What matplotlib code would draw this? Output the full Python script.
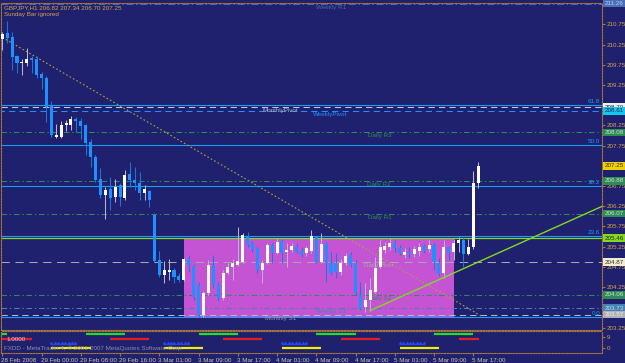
import matplotlib
matplotlib.use("Agg")
import matplotlib.pyplot as plt
from matplotlib.patches import Rectangle
from matplotlib import transforms
import numpy as np

# GBPJPY H1, bar 0 = 28 Feb 2008 16:00
opens = [210.39, 210.53, 210.44, 209.97, 209.79, 209.79, 209.91, 209.88, 209.52, 209.41,
         208.75, 207.97, 207.96, 208.26, 208.26, 208.40, 208.36, 208.26, 207.85, 207.48,
         206.92, 206.54, 206.67, 206.47, 206.77, 206.45, 207.05, 206.90, 206.82, 206.57,
         206.63, 206.03, 204.92, 204.55, 204.62, 204.67, 204.52, 204.42, 204.94, 204.77,
         204.30, 203.56, 204.10, 204.80, 204.30, 203.98, 204.60, 204.75, 204.80, 204.88,
         205.50, 205.35, 205.21, 204.67, 204.84, 205.29, 205.10, 205.40, 205.11, 205.17,
         205.25, 205.15, 205.09, 205.15, 205.48, 204.88, 205.33, 204.84, 204.84, 204.63,
         204.84, 205.04, 204.84, 204.05, 203.75, 203.93, 204.14, 204.75, 205.17, 205.25,
         205.33, 205.21, 205.04, 205.12, 205.07, 205.14, 205.27, 205.19, 205.29, 204.84,
         204.61, 205.23, 205.12, 205.35, 205.42, 205.07, 205.23, 206.82]
highs = [210.56, 210.84, 210.57, 209.99, 209.88, 210.16, 209.97, 209.97, 209.58, 209.47,
         208.85, 208.28, 208.37, 208.38, 208.49, 208.45, 208.43, 208.28, 207.91, 207.52,
         207.19, 206.72, 206.98, 206.92, 206.82, 207.15, 207.35, 207.23, 207.10, 206.78,
         206.65, 206.08, 205.15, 204.90, 204.94, 204.72, 204.61, 204.96, 205.04, 204.82,
         204.38, 204.15, 204.92, 205.04, 204.38, 204.67, 204.84, 204.94, 205.74, 205.59,
         205.62, 205.39, 205.24, 204.92, 205.34, 205.34, 205.46, 205.44, 205.33, 205.35,
         205.35, 205.23, 205.27, 205.66, 205.51, 205.60, 205.36, 205.13, 205.09, 204.94,
         205.09, 205.13, 204.92, 204.38, 204.34, 204.47, 205.00, 205.42, 205.37, 205.46,
         205.42, 205.29, 205.21, 205.25, 205.27, 205.35, 205.32, 205.42, 205.34, 204.96,
         205.42, 205.27, 205.44, 205.48, 205.46, 205.44, 207.13, 207.34]
lows = [210.11, 210.29, 209.62, 209.55, 209.50, 209.73, 209.54, 209.41, 209.14, 208.34,
        207.96, 207.95, 207.95, 208.10, 208.13, 208.08, 207.91, 207.52, 207.23, 206.86,
        206.45, 205.93, 206.16, 206.36, 206.26, 206.40, 206.72, 206.65, 206.40, 206.40,
        206.22, 204.88, 204.49, 204.34, 204.43, 204.36, 204.38, 204.40, 204.63, 203.93,
        203.52, 203.50, 204.05, 204.23, 203.90, 203.93, 204.58, 204.42, 204.78, 204.85,
        205.25, 205.13, 204.59, 204.34, 204.82, 204.84, 205.07, 204.84, 204.75, 205.13,
        205.09, 205.00, 205.02, 205.09, 204.84, 204.84, 204.38, 204.55, 204.47, 204.55,
        204.80, 204.75, 204.05, 203.68, 203.63, 203.67, 204.11, 204.72, 205.09, 205.17,
        205.13, 205.04, 204.97, 204.96, 204.99, 205.02, 205.09, 205.13, 204.67, 204.52,
        204.47, 204.92, 204.92, 205.12, 204.75, 205.04, 205.19, 206.70]
closes = [210.51, 210.41, 209.95, 209.79, 209.82, 209.88, 209.87, 209.50, 209.41, 208.71,
          208.01, 208.01, 208.26, 208.30, 208.40, 208.36, 208.23, 207.81, 207.46, 206.90,
          206.53, 206.65, 206.46, 206.73, 206.49, 207.02, 206.90, 206.83, 206.57, 206.67,
          206.40, 204.90, 204.55, 204.67, 204.67, 204.49, 204.42, 204.94, 204.80, 204.01,
          203.56, 204.10, 204.80, 204.30, 203.98, 204.60, 204.75, 204.84, 204.90, 205.54,
          205.29, 205.17, 204.67, 204.85, 205.29, 205.09, 205.37, 205.09, 205.17, 205.27,
          205.13, 205.04, 205.21, 205.51, 204.88, 205.32, 204.84, 204.59, 204.63, 204.84,
          205.02, 204.80, 204.10, 203.72, 203.93, 204.18, 204.72, 205.25, 205.27, 205.35,
          205.21, 205.09, 205.12, 205.07, 205.19, 205.23, 205.15, 205.29, 204.88, 204.57,
          205.23, 205.10, 205.35, 205.42, 205.07, 205.23, 206.82, 207.25]

time_ticks = [0, 8, 16, 24, 32, 40, 48, 56, 64, 72, 80, 88, 96]
time_labels = ["28 Feb 2008", "29 Feb 00:00", "29 Feb 08:00", "29 Feb 16:00",
               "3 Mar 01:00", "3 Mar 09:00", "3 Mar 17:00", "4 Mar 01:00",
               "4 Mar 09:00", "4 Mar 17:00", "5 Mar 01:00", "5 Mar 09:00", "5 Mar 17:00"]

pivot_names = ["Weekly R1", "MonthlyPivot", "WeeklyPivot", "Daily R3", "Daily R2",
               "Daily R1", "Daily Pivot", "Daily S1", "Weekly S1", "Monthly S1"]
pivot_prices = [211.26, 208.70, 208.61, 208.08, 206.88, 206.07, 204.87, 204.06, 203.73, 203.57]

fibo_names = ["0.0", "23.6", "38.2", "50.0", "61.8"]
fibo_prices = [203.50, 205.51, 206.75, 207.76, 208.75]

fibo_line_bars = [-22.3, 97.7]
fibo_line_prices = [212.00, 203.53]
trend_bars = [75, 122.3]
trend_prices = [203.67, 206.25]
hline_price = 205.46

box_bars = [37, 92]
box_prices = [203.49, 205.44]

green_sessions = [(-7, 0.9), (17, 25), (40, 48), (64, 72), (88, 96)]
red_sessions = [(-2, 6), (22, 30), (45, 53), (69, 77), (93, 97.2)]
blue_sessions = [(10, 15), (33, 38), (57, 62), (81, 86)]
yellow_sessions = [(10, 18), (33, 41), (57, 65), (81, 89)]

# scale ticks hidden behind value boxes in the terminal
price_ticks = [203.25, 204.25, 204.75, 205.25, 205.75, 206.25, 206.75,
               207.75, 208.25, 209.25, 209.75, 210.25, 210.75]

BG = '#1f216e'
FRAME = '#a8743c'
FG = '#d6a248'
BEAR = '#1e90ff'
SEAGREEN = '#2e8b57'

plt.rcParams['font.family'] = ['Liberation Sans', 'DejaVu Sans']
plt.rcParams['font.size'] = 4.5
plt.rcParams['lines.scale_dashes'] = False

W, H = 625, 363
fig = plt.figure(figsize=(W / 100, H / 100), dpi=100, facecolor=BG)


def px_box(x0, y0, x1, y1):
    return [x0 / W, 1 - y1 / H, (x1 - x0) / W, (y1 - y0) / H]


ax = fig.add_axes(px_box(1.5, 3, 602, 330), facecolor=BG)
sub = fig.add_axes(px_box(1.5, 331, 602, 353), facecolor=BG, sharex=ax)
ax.set_xlim(-0.16, 122.24)
ax.set_ylim(203.189, 211.277)

for a in (ax, sub):
    for s in a.spines.values():
        s.set_color(FRAME)
        s.set_linestyle((0, (1, 1)))
        s.set_linewidth(0.8)

# rectangle
ax.add_patch(Rectangle((box_bars[0], box_prices[0]), box_bars[1] - box_bars[0],
                       box_prices[1] - box_prices[0], facecolor='#c454d4',
                       edgecolor='none', zorder=1))

# pivots
styles = {
    "Weekly R1": ('#4a68a8', (0, (5, 2, 1, 2))),
    "MonthlyPivot": ('#c8c4e8', (0, (4.5, 3))),
    "WeeklyPivot": ('#1e90ff', (2, (4.5, 3))),
    "Daily R3": (SEAGREEN, (0, (4, 2, 1, 2))),
    "Daily R2": (SEAGREEN, (0, (4, 2, 1, 2))),
    "Daily R1": (SEAGREEN, (0, (4, 2, 1, 2))),
    "Daily Pivot": ('#a8a8a8', (0, (6, 4))),
    "Daily S1": (SEAGREEN, (0, (4, 2, 1, 2))),
    "Weekly S1": ('#4682b4', (0, (4, 2, 1, 2))),
    "Monthly S1": ('#b8b8c8', (0, (4.5, 3))),
}
label_bars = {"Weekly R1": 64, "MonthlyPivot": 53, "WeeklyPivot": 63.4, "Daily R3": 74.6,
              "Daily R2": 74.4, "Daily R1": 74.6, "Daily Pivot": 73.8, "Daily S1": 74.6,
              "Weekly S1": 64, "Monthly S1": 53.6}
label_colors = {"Weekly R1": '#4a68a8', "MonthlyPivot": '#b0b0c0', "WeeklyPivot": '#1e90ff',
                "Daily Pivot": '#a8a8a8', "Weekly S1": '#4682b4', "Monthly S1": '#9898b0'}
below = transforms.offset_copy(ax.transData, fig=fig, x=0, y=-1.2, units='dots')
for name, p in zip(pivot_names, pivot_prices):
    col, ls = styles[name]
    ax.axhline(p, color=col, lw=0.75, ls=ls, zorder=2)
    ax.text(label_bars[name], p, name, color=label_colors.get(name, SEAGREEN),
            va='top', ha='left', transform=below, zorder=3)

# fibo
edge = transforms.blended_transform_factory(ax.transAxes, ax.transData)
above = transforms.offset_copy(edge, fig=fig, x=0, y=1.0, units='dots')
for name, p in zip(fibo_names, fibo_prices):
    ax.axhline(p, color='#1c9cf0', lw=0.8, zorder=2)
    ax.text(0.997, p, name, color='#1c9cf0', ha='right', va='bottom',
            transform=above, zorder=3)
ax.plot(fibo_line_bars, fibo_line_prices, color='#b0a040', lw=0.8,
        ls=(0, (1.2, 1.6)), zorder=2)

# lime lines
ax.axhline(hline_price, color='#84d820', lw=0.9, zorder=2)
ax.plot(trend_bars, trend_prices, color='#84d820', lw=1.0, zorder=6)

# candles
o, h, l, c = map(np.array, (opens, highs, lows, closes))
idx = np.arange(len(o))
up = c >= o
ax.vlines(idx[up], l[up], h[up], color='#b4b4d4', lw=0.75, zorder=4)
ax.vlines(idx[~up], l[~up], h[~up], color='#1a78d8', lw=0.75, zorder=4)
body = np.maximum(np.abs(c - o), 0.025)
bottom = np.minimum(o, c)
ax.bar(idx[up], body[up], bottom=bottom[up], width=0.62, color='white', lw=0, zorder=5)
ax.bar(idx[~up], body[~up], bottom=bottom[~up], width=0.62, color=BEAR, lw=0, zorder=5)

# price scale
ax.yaxis.tick_right()
ax.set_yticks(np.arange(203.25, 211.0, 0.5))
ax.set_yticklabels([f'{t:.2f}' if round(t, 2) in price_ticks else ''
                    for t in np.arange(203.25, 211.0, 0.5)])
ax.tick_params(axis='y', colors=FRAME, labelcolor=FG, length=2, width=0.8, pad=1.5)
ax.tick_params(axis='x', bottom=False, labelbottom=False)

# value boxes on the price scale
box_labels = [(211.26, '#4a70b8', '#b8c8e8'), (208.70, '#f0f0f0', '#202040'),
              (208.61, '#10c8f0', '#102050'), (208.08, SEAGREEN, '#c8e8c8'),
              (207.25, '#f0d000', '#303020'), (206.88, SEAGREEN, '#c8e8c8'),
              (206.07, SEAGREEN, '#c8e8c8'), (205.46, '#84d820', '#203010'),
              (204.87, '#f2ecd0', '#303030'), (204.06, SEAGREEN, '#c8e8c8'),
              (203.73, '#4682b4', '#c8d8f0'), (203.57, '#b0b0b8', '#f0f0f0')]
right = transforms.offset_copy(edge, fig=fig, x=2.5, y=0, units='dots')
for p, bg, fg in box_labels:
    ax.text(1.0, p, f'{p:.2f}', transform=right, ha='left', va='center', color=fg,
            clip_on=False, zorder=10,
            bbox=dict(boxstyle='square,pad=0.2', fc=bg, ec='none'))

# titles
ax.text(0.004, 0.993, 'GBPJPY,H1 206.82 207.34 206.70 207.25', color=FG,
        transform=ax.transAxes, ha='left', va='top', zorder=10)
ax.text(0.004, 0.971, 'Sunday Bar ignored', color=FG,
        transform=ax.transAxes, ha='left', va='top', zorder=10)

# session indicator
sub.set_ylim(-3.65, 13.42)
rows = [(green_sessions, '#22dd22', 11.1), (red_sessions, '#e02020', 7.2),
        (yellow_sessions, '#f0f000', 0.47)]
for segs, col, yv in rows:
    for s0, s1 in segs:
        sub.plot([s0, s1], [yv, yv], color=col, lw=1.6, solid_capstyle='butt')
for s0, s1 in blue_sessions:
    stars = np.arange(s0, s1 + 0.1, 0.7)
    sub.plot([s0, s1], [3.6, 3.6], color='#2040ff', lw=0.9)
    sub.plot(stars, np.full(len(stars), 4.3), ls='none', marker='*', ms=3.2,
             color='#2848ff', mew=0)
sub.text(0.008, 7.2, '1.0000', color='#d8d8d8', va='center', ha='left',
         transform=transforms.blended_transform_factory(sub.transAxes, sub.transData))
sub.text(0.004, 0.2, 'FXDD - MetaTrader 4, \u00a9 2001-2007 MetaQuotes Software Corp.',
         color='#8c8ca8', transform=sub.transAxes, ha='left', va='center')
sub.yaxis.tick_right()
sub.set_yticks([0, 9])
sub.set_yticklabels(['0', '9'])
sub.tick_params(axis='y', colors=FRAME, labelcolor=FG, length=2, width=0.8, pad=1.5)
sub.set_xticks(time_ticks)
sub.set_xticklabels(time_labels, ha='left')
sub.tick_params(axis='x', colors=FRAME, labelcolor='#d0c49c', length=2.5, width=0.8, pad=1.2)
for t in sub.get_xticklabels():
    t.set_transform(t.get_transform() + transforms.ScaledTranslation(-1 / 100, 0, fig.dpi_scale_trans))

fig.savefig('out.png', dpi=100, facecolor=BG)
